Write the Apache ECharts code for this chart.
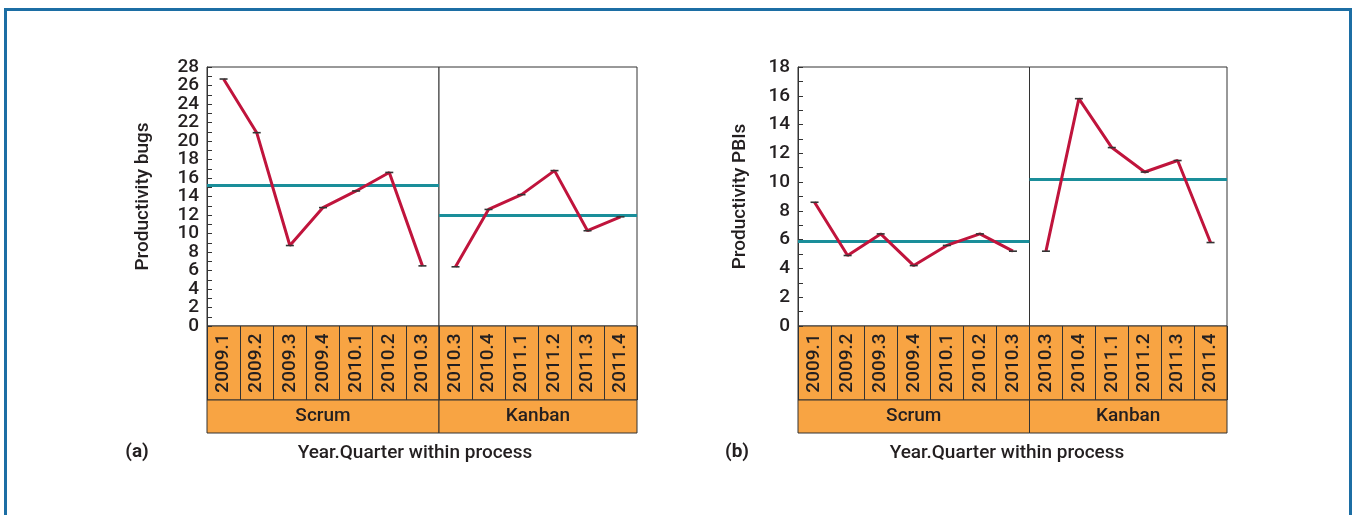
<!DOCTYPE html>
<html>
<head>
<meta charset="utf-8">
<script src="https://cdn.jsdelivr.net/npm/echarts@6/dist/echarts.min.js"></script>
<style>
  html, body { margin: 0; padding: 0; background: #ffffff; }
  #frame {
    position: absolute; left: 4px; top: 8px; width: 1348px; height: 520px;
    box-sizing: border-box; border: 3px solid #1c6ea4; border-bottom: none;
  }
  #chart { position: absolute; left: 0; top: 0; width: 1352px; height: 515px; }
</style>
</head>
<body>
<div id="frame"></div>
<div id="chart"></div>
<script>
// Quarters covered by each process
const scrumQuarters = ['2009.1', '2009.2', '2009.3', '2009.4', '2010.1', '2010.2', '2010.3'];
const kanbanQuarters = ['2010.3', '2010.4', '2011.1', '2011.2', '2011.3', '2011.4'];
const processNames = ['Scrum', 'Kanban'];

// (a) productivity measured in bugs
const bugsScrum = [26.7, 20.9, 8.7, 12.8, 14.6, 16.6, 6.5];
const bugsKanban = [6.4, 12.6, 14.2, 16.8, 10.3, 11.8];
// (b) productivity measured in product backlog items
const pbisScrum = [8.6, 4.9, 6.4, 4.2, 5.6, 6.4, 5.2];
const pbisKanban = [5.2, 15.8, 12.4, 10.7, 11.5, 5.8];

const bugsAxisMax = 28;
const pbisAxisMax = 18;
const labelStep = 2;

const FONT = "Roboto, 'Liberation Sans', Arial, sans-serif";
const WEIGHT = 500;
const SIZE = 19;
const INK = '#231f20';
const RED = '#c0143c';
const TEAL = '#1a8e9a';
const ORANGE = '#f8a443';
const EDGE = '#333333';

const PLOT_TOP = 67, PLOT_H = 259;
const CELL_TOP = 326, CELL_H = 74;
const GROUP_TOP = 400, GROUP_H = 33;

const grids = [], xAxes = [], yAxes = [], series = [];

function addColumn(left, width, quarters, groupName, values, yMax, yName, nameGap, showY) {
  // plot area
  const gi = grids.length;
  grids.push({ left: left, top: PLOT_TOP, width: width, height: PLOT_H, show: true,
    backgroundColor: '#ffffff', borderColor: EDGE, borderWidth: 1, outerBoundsMode: 'none' });
  xAxes.push({ gridIndex: gi, type: 'category', data: quarters, boundaryGap: true, show: false });
  yAxes.push({
    gridIndex: gi, type: 'value', min: 0, max: yMax, interval: 1, show: showY,
    name: yName, nameLocation: 'middle', nameRotate: 90, nameGap: nameGap,
    nameTextStyle: { fontFamily: FONT, fontWeight: WEIGHT, fontSize: SIZE, color: INK },
    axisLine: { show: true, lineStyle: { color: EDGE, width: 1 } },
    axisTick: { show: true, inside: true, length: 5, lineStyle: { color: EDGE, width: 1 } },
    axisLabel: { margin: 8, fontFamily: FONT, fontWeight: WEIGHT, fontSize: SIZE, color: INK,
      formatter: v => (v % labelStep === 0 ? String(v) : '') },
    splitLine: { show: false }
  });
  series.push({
    type: 'line', xAxisIndex: gi, yAxisIndex: gi, data: values,
    symbol: 'rect', symbolSize: [8, 1.6], itemStyle: { color: '#333333' },
    lineStyle: { color: RED, width: 3 }, z: 3, silent: true,
    markLine: {
      silent: true, symbol: ['none', 'none'], label: { show: false },
      lineStyle: { color: TEAL, width: 3, type: 'solid' },
      data: [{ type: 'average' }], z: 2
    }
  });

  // quarter cells under the plot
  const ci = grids.length;
  grids.push({ left: left, top: CELL_TOP, width: width, height: CELL_H, show: true,
    backgroundColor: ORANGE, borderColor: EDGE, borderWidth: 1, outerBoundsMode: 'none' });
  xAxes.push({
    gridIndex: ci, type: 'category', data: quarters, boundaryGap: true, position: 'bottom',
    axisLine: { show: false }, axisTick: { show: false },
    axisLabel: { inside: true, rotate: 90, margin: CELL_H / 2, interval: 0,
      align: 'center', verticalAlign: 'middle',
      fontFamily: FONT, fontWeight: WEIGHT, fontSize: SIZE, color: INK },
    splitLine: { show: true, interval: 0, lineStyle: { color: EDGE, width: 1 } }
  });
  yAxes.push({ gridIndex: ci, type: 'value', min: 0, max: 1, show: false });

  // process band
  const pi = grids.length;
  grids.push({ left: left, top: GROUP_TOP, width: width, height: GROUP_H, show: true,
    backgroundColor: ORANGE, borderColor: EDGE, borderWidth: 1, outerBoundsMode: 'none' });
  xAxes.push({
    gridIndex: pi, type: 'category', data: [groupName], boundaryGap: true, position: 'bottom',
    axisLine: { show: false }, axisTick: { show: false },
    axisLabel: { inside: true, margin: GROUP_H / 2, interval: 0,
      align: 'center', verticalAlign: 'middle',
      fontFamily: FONT, fontWeight: WEIGHT, fontSize: SIZE, color: INK },
    splitLine: { show: false }
  });
  yAxes.push({ gridIndex: pi, type: 'value', min: 0, max: 1, show: false });
}

function addPanel(left, divider, right, yMax, yName, nameGap, scrumVals, kanbanVals) {
  addColumn(left, divider - left, scrumQuarters, processNames[0], scrumVals, yMax, yName, nameGap, true);
  addColumn(divider, right - divider, kanbanQuarters, processNames[1], kanbanVals, yMax, '', 0, false);
}

addPanel(207, 439, 637, bugsAxisMax, 'Productivity bugs', 54, bugsScrum, bugsKanban);
addPanel(798, 1029.5, 1227, pbisAxisMax, 'Productivity PBIs', 48, pbisScrum, pbisKanban);

const caption = (t, x, y, w) => ({
  type: 'text', x: x, y: y,
  style: { text: t, fill: INK, font: (w || WEIGHT) + ' ' + SIZE + 'px ' + FONT,
    textAlign: 'center', textVerticalAlign: 'middle' }
});

const chart = echarts.init(document.getElementById('chart'), null, { renderer: 'canvas' });
chart.setOption({
  animation: false,
  backgroundColor: 'transparent',
  grid: grids,
  xAxis: xAxes,
  yAxis: yAxes,
  series: series,
  graphic: [
    caption('(a)', 137, 452, 'bold'),
    caption('Year.Quarter within process', 415, 453),
    caption('(b)', 737, 452, 'bold'),
    caption('Year.Quarter within process', 1007, 453)
  ]
});
</script>
</body>
</html>
